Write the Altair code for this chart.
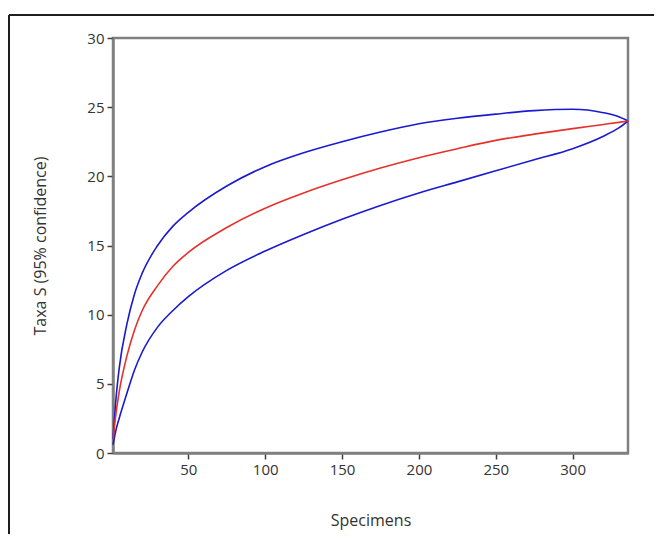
import altair as alt
import pandas as pd

specimens = [1, 3, 5, 10, 15, 20, 30, 40, 50, 75, 100, 125, 150, 175, 200, 225, 250, 275, 300, 320, 330, 336]
taxa_mean = [1.0, 2.9, 4.4, 7.0, 8.9, 10.3, 12.1, 13.5, 14.5, 16.3, 17.7, 18.8, 19.75, 20.6, 21.35, 22.0, 22.6, 23.05, 23.45, 23.75, 23.9, 24.0]
taxa_upper = [1.0, 4.0, 6.1, 9.3, 11.5, 13.0, 15.0, 16.4, 17.4, 19.3, 20.7, 21.7, 22.5, 23.2, 23.8, 24.2, 24.5, 24.75, 24.85, 24.6, 24.3, 24.0]
taxa_lower = [0.6, 1.7, 2.5, 4.3, 6.0, 7.3, 9.1, 10.3, 11.3, 13.2, 14.6, 15.8, 16.9, 17.9, 18.8, 19.6, 20.4, 21.2, 22.0, 22.9, 23.5, 24.0]

x_ticks = [50, 100, 150, 200, 250, 300]
y_ticks = [0, 5, 10, 15, 20, 25, 30]

rows = []
for name, vals in [("upper", taxa_upper), ("lower", taxa_lower), ("mean", taxa_mean)]:
    for x, y in zip(specimens, vals):
        rows.append({"Specimens": x, "Taxa": y, "series": name})
df = pd.DataFrame(rows)

FONT = "Open Sans"

lines = alt.Chart(df).mark_line(interpolate="monotone", strokeWidth=1.6).encode(
    x=alt.X("Specimens:Q",
            scale=alt.Scale(domain=[1, 336], nice=False, zero=False),
            axis=alt.Axis(values=x_ticks, title="Specimens", grid=False)),
    y=alt.Y("Taxa:Q",
            scale=alt.Scale(domain=[0, 30], nice=False),
            axis=alt.Axis(values=y_ticks, title="Taxa S (95% confidence)", grid=False)),
    color=alt.Color("series:N",
                    scale=alt.Scale(domain=["upper", "lower", "mean"],
                                    range=["#1a1ad0", "#1a1ad0", "#e8302a"]),
                    legend=None),
    detail="series:N",
)

frame_top = alt.Chart(df).mark_rule(color="#1e1e1e", strokeWidth=2).encode(
    x=alt.value(-104), x2=alt.value(560), y=alt.value(-23)
)
frame_left = alt.Chart(df).mark_rule(color="#1e1e1e", strokeWidth=2).encode(
    x=alt.value(-104), y=alt.value(-23), y2=alt.value(520)
)

chart = alt.layer(frame_top, frame_left, lines).properties(
    width=515,
    height=415,
    autosize=alt.AutoSizeParams(type="none"),
    padding={"left": 105, "top": 30, "right": 26, "bottom": 81},
).configure_view(
    stroke="#808080", strokeWidth=2.5
).configure_axis(
    domainColor="#808080", domainWidth=2.5,
    tickColor="#404040", tickWidth=1.5, tickSize=6,
    labelFont=FONT, labelFontSize=15, labelColor="#333333", labelPadding=3,
    titleFont=FONT, titleFontSize=16, titleColor="#333333", titleFontWeight="normal",
).configure_axisX(
    titlePadding=35
).configure_axisY(
    titlePadding=38
)

chart.save("out.html", embed_options={"renderer": "svg", "actions": False})
